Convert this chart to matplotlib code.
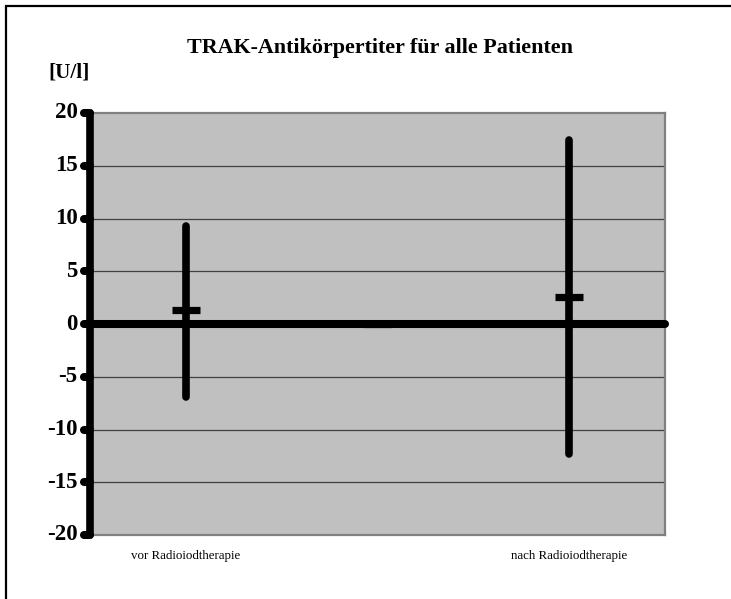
import matplotlib
matplotlib.use('Agg')
import matplotlib.pyplot as plt
from matplotlib.patches import Rectangle
import numpy as np

# data
categories = ['vor Radioiodtherapie', '', 'nach Radioiodtherapie']
high = [9.3, 0.0, 17.4]
low = [-6.9, 0.0, -12.3]
mean = [1.3, 0.0, 2.6]
yticks = [-20, -15, -10, -5, 0, 5, 10, 15, 20]

W, H = 731, 599
fig = plt.figure(figsize=(W / 100, H / 100), dpi=100)
plt.rcParams['font.family'] = 'Liberation Serif'

# outer frame (only left/top visible in the original)
fig.patches.append(Rectangle((6 / W, -0.1), 1.2, 1.1 - 6 / H, transform=fig.transFigure,
                             fill=False, edgecolor='black', linewidth=1.6))

# plot area in pixels: left 90, right 665, top 113, bottom 535
ax = fig.add_axes([90 / W, (H - 535) / H, 575 / W, 422 / H])
ax.set_facecolor('#c0c0c0')
x = np.arange(len(categories))
ax.set_xlim(-0.5, len(categories) - 0.5)
ax.set_ylim(-20, 20)

for s in ['top', 'right', 'bottom']:
    ax.spines[s].set_color('#808080')
    ax.spines[s].set_linewidth(1.6)
ax.spines['left'].set_visible(False)

# grid lines
for yv in yticks[1:-1]:
    if yv != 0:
        ax.axhline(yv, color='#404040', linewidth=0.9, zorder=1)

# thick y axis with rounded tick stubs
ax.plot([-0.5, -0.5], [-20, 20], color='black', linewidth=5.5, solid_capstyle='round',
        clip_on=False, zorder=5)
for yv in yticks:
    ax.plot([-0.5 - 0.03, -0.5], [yv, yv], color='black', linewidth=5.8,
            solid_capstyle='round', clip_on=False, zorder=5)
    ax.text(-0.5 - 0.065, yv, str(yv), ha='right', va='center', fontsize=16.5,
            fontweight='bold')
ax.set_yticks([])
ax.set_xticks([])

# zero line
ax.plot([-0.5, 2.5], [0, 0], color='black', linewidth=5.8, solid_capstyle='round',
        clip_on=False, zorder=4)

# high-low lines and mean markers
for xi, h, l, m in zip(x, high, low, mean):
    if h != l:
        ax.plot([xi, xi], [l, h], color='black', linewidth=5.5, solid_capstyle='round',
                zorder=3)
    ax.plot([xi - 0.072, xi + 0.072], [m, m], color='black', linewidth=5.2,
            solid_capstyle='butt', zorder=3)

for xi, c in zip(x, categories):
    ax.text(xi, -22.0, c, ha='center', va='center', fontsize=9.3)

fig.text(380 / W, 1 - 48 / H, 'TRAK-Antikörpertiter für alle Patienten', ha='center',
         va='center', fontsize=15.8, fontweight='bold')
fig.text(48 / W, 1 - 73 / H, '[U/l]', ha='left', va='center', fontsize=15.2,
         fontweight='bold')

fig.savefig('out.png', dpi=100)
